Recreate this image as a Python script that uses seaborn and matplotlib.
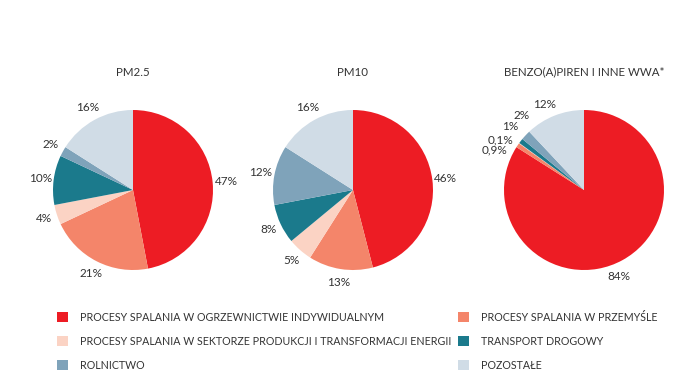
import matplotlib
matplotlib.use("Agg")
import numpy as np
import matplotlib.pyplot as plt
from matplotlib.patches import Patch
import seaborn as sns

# --- Data ---
CATEGORIES = [
    'PROCESY SPALANIA W OGRZEWNICTWIE INDYWIDUALNYM',
    'PROCESY SPALANIA W PRZEMYŚLE',
    'PROCESY SPALANIA W SEKTORZE PRODUKCJI I TRANSFORMACJI ENERGII',
    'TRANSPORT DROGOWY',
    'ROLNICTWO',
    'POZOSTAŁE',
]
PM25 = [47, 21, 4, 10, 2, 16]
PM10 = [46, 13, 5, 8, 12, 16]
BAP = [84, 0.9, 0.1, 1, 2, 12]
PM25_LABELS = ['47%', '21%', '4%', '10%', '2%', '16%']
PM10_LABELS = ['46%', '13%', '5%', '8%', '12%', '16%']
BAP_LABELS = ['84%', '0,9%', '0,1%', '1%', '2%', '12%']
TITLES = ['PM2.5', 'PM10', 'BENZO(A)PIREN I INNE WWA*']

# --- Style ---
COLORS = ['#ED1C24', '#F4856A', '#FBD3C4', '#1B7A8C', '#7FA3BA', '#D0DCE6']
TEXT = '#333333'
FIG_W, FIG_H = 696, 385
CENTERS = [(133, 190), (353, 190), (584, 190)]
RADIUS = 80
# angular nudges (deg) for crowded labels on the third pie
BAP_SHIFT = [-7, 10, 5, -3, -7, 3]

sns.set_theme(style="white")
plt.rcParams['font.family'] = ['Lato', 'DejaVu Sans']

fig = plt.figure(figsize=(FIG_W / 100, FIG_H / 100), dpi=100)
fig.patch.set_facecolor('white')


def draw_pie(values, labels, title, center, shifts=None):
    cx, cy = center
    ax = fig.add_axes([(cx - RADIUS) / FIG_W, (FIG_H - cy - RADIUS) / FIG_H,
                       2 * RADIUS / FIG_W, 2 * RADIUS / FIG_H])
    wedges, texts = ax.pie(values, labels=labels, colors=COLORS, startangle=90,
                           counterclock=False, labeldistance=1.17,
                           wedgeprops=dict(linewidth=0),
                           textprops=dict(color=TEXT, fontsize=8.5))
    for i, (w, t) in enumerate(zip(wedges, texts)):
        t.set_ha('center')
        t.set_va('center')
        if shifts is not None:
            ang = np.deg2rad((w.theta1 + w.theta2) / 2 + shifts[i])
            d = 1.17 if values[i] > 5 else 1.22
            t.set_position((d * np.cos(ang), d * np.sin(ang)))
    ax.set_xlim(-1, 1)
    ax.set_ylim(-1, 1)
    ax.axis('off')
    fig.text(cx / FIG_W, 1 - 72 / FIG_H, title, ha='center', va='center',
             color=TEXT, fontsize=8.3)


draw_pie(PM25, PM25_LABELS, TITLES[0], CENTERS[0])
draw_pie(PM10, PM10_LABELS, TITLES[1], CENTERS[1])
draw_pie(BAP, BAP_LABELS, TITLES[2], CENTERS[2], shifts=BAP_SHIFT)

handles = [Patch(facecolor=c, edgecolor='none', label=l) for c, l in zip(COLORS, CATEGORIES)]
leg_kw = dict(frameon=False, fontsize=7.7, handlelength=1.05, handleheight=1.1,
              handletextpad=1.1, labelspacing=1.2, borderpad=0, borderaxespad=0,
              labelcolor=TEXT, loc='upper left')
fig.legend(handles=[handles[0], handles[2], handles[4]],
           bbox_to_anchor=(57 / FIG_W, 1 - 312 / FIG_H), **leg_kw)
fig.legend(handles=[handles[1], handles[3], handles[5]],
           bbox_to_anchor=(458 / FIG_W, 1 - 312 / FIG_H), **leg_kw)

fig.savefig('out.png', dpi=100, facecolor='white')
